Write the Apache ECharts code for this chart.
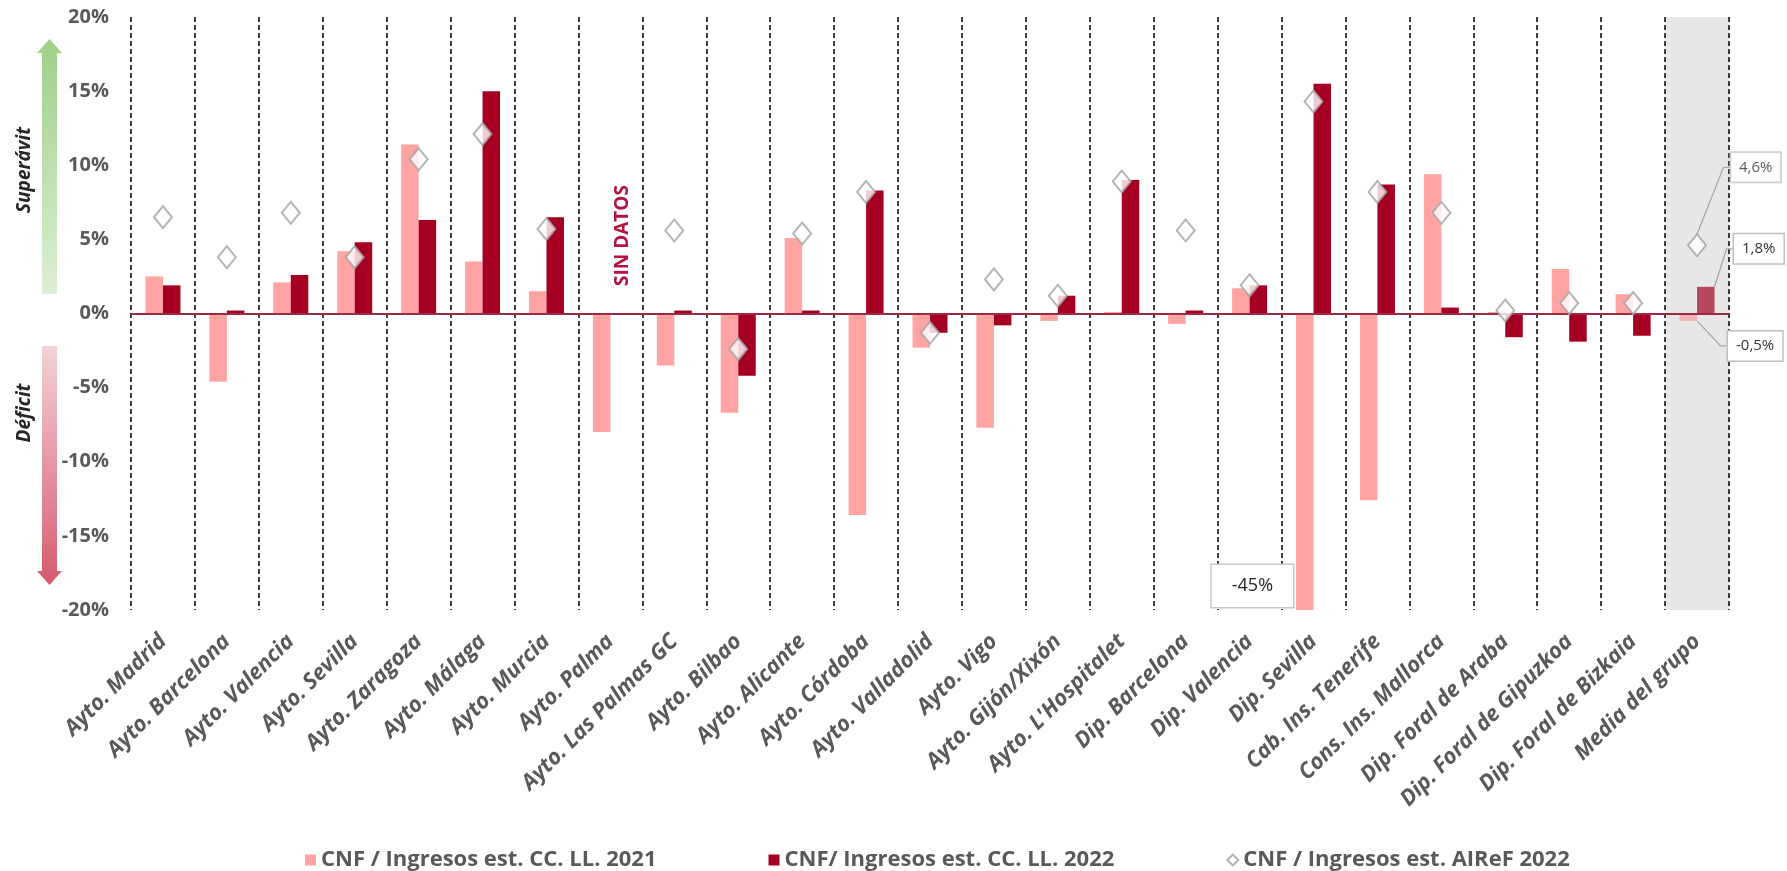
<!DOCTYPE html>
<html>
<head>
<meta charset="utf-8">
<script src="https://cdn.jsdelivr.net/npm/echarts@6/dist/echarts.min.js"></script>
<style>
  html, body { margin: 0; padding: 0; background: #ffffff; }
  #chart { width: 1787px; height: 871px; }
</style>
</head>
<body>
<div id="chart"></div>
<script>
// Capacidad/necesidad de financiación sobre ingresos (%)
const categories = [
  'Ayto. Madrid', 'Ayto. Barcelona', 'Ayto. Valencia', 'Ayto. Sevilla', 'Ayto. Zaragoza',
  'Ayto. Málaga', 'Ayto. Murcia', 'Ayto. Palma', 'Ayto. Las Palmas GC', 'Ayto. Bilbao',
  'Ayto. Alicante', 'Ayto. Córdoba', 'Ayto. Valladolid', 'Ayto. Vigo', 'Ayto. Gijón/Xixón',
  "Ayto. L'Hospitalet", 'Dip. Barcelona', 'Dip. Valencia', 'Dip. Sevilla', 'Cab. Ins. Tenerife',
  'Cons. Ins. Mallorca', 'Dip. Foral de Araba', 'Dip. Foral de Gipuzkoa', 'Dip. Foral de Bizkaia',
  'Media del grupo'
];
const cnf2021 = [2.5, -4.6, 2.1, 4.2, 11.4, 3.5, 1.5, -8.0, -3.5, -6.7, 5.1, -13.6, -2.3, -7.7, -0.5,
  0.1, -0.7, 1.7, -45, -12.6, 9.4, 0.1, 3.0, 1.3, -0.5];
const cnf2022 = [1.9, 0.2, 2.6, 4.8, 6.3, 15.0, 6.5, null, 0.2, -4.2, 0.2, 8.3, -1.3, -0.8, 1.2,
  9.0, 0.2, 1.9, 15.5, 8.7, 0.4, -1.6, -1.9, -1.5, 1.8];
const airef2022 = [6.5, 3.8, 6.8, 3.8, 10.4, 12.1, 5.7, null, 5.6, -2.4, 5.4, 8.2, -1.3, 2.3, 1.2,
  8.9, 5.6, 1.9, 14.3, 8.2, 6.8, 0.2, 0.7, 0.7, 4.6];
const seriesNames = ['CNF / Ingresos est. CC. LL. 2021', 'CNF/ Ingresos est. CC. LL. 2022', 'CNF / Ingresos est. AIReF 2022'];
const yMin = -20, yMax = 20, yStep = 5;
const noDataText = 'SIN DATOS';
const noDataIndex = categories.indexOf('Ayto. Palma');
const outlierIndex = categories.indexOf('Dip. Sevilla');
const meanIndex = categories.indexOf('Media del grupo');

const fmt = v => (Number.isInteger(v) ? String(v) : v.toFixed(1).replace('.', ',')) + '%';

const W = 1787, H = 871;
const GRID = { left: 131, right: 58, top: 17, bottom: 261 };
const BOX_X = W - GRID.right + 2;

const COL21 = '#ffa3a3', COL22 = '#a50021';
const AXIS_TXT = '#595959';
const boxLabel = {
  show: true,
  formatter: p => fmt(p.value),
  fontFamily: 'Open Sans', fontSize: 15, color: '#333333',
  backgroundColor: '#ffffff', borderColor: '#bfbfbf', borderWidth: 1.5,
  padding: [7, 8]
};
const guide = { show: true, length2: 6, lineStyle: { color: '#a6a6a6', width: 1.3 } };

// shade only the last category column
const bandColors = categories.map((c, i) => i === meanIndex ? '#e7e7e7' : 'rgba(0,0,0,0)');

const data21 = cnf2021.map((v, i) => {
  if (i === outlierIndex) {
    return { value: v, label: { show: true,
      formatter: p => fmt(p.value), fontFamily: 'Open Sans', fontSize: 18, color: '#262626',
      backgroundColor: '#ffffff', borderColor: '#c8c8c8', borderWidth: 1.5, padding: [12, 20] } };
  }
  if (i === meanIndex) {
    return { value: v, itemStyle: { color: '#f4b4b6' }, label: boxLabel, labelLine: guide };
  }
  return v;
});
const data22 = cnf2022.map((v, i) => i === meanIndex
  ? { value: v, itemStyle: { color: '#b5485f' }, label: boxLabel, labelLine: guide }
  : v);
const dataAiref = airef2022.map((v, i) => i === meanIndex
  ? { value: v, label: boxLabel, labelLine: guide }
  : v);

const chart = echarts.init(document.getElementById('chart'), null, { renderer: 'canvas', width: W, height: H });

const arrowGreen = new echarts.graphic.LinearGradient(0, 0, 0, 1, [
  { offset: 0, color: '#9fcf87' }, { offset: 1, color: '#dcefd4' }]);
const arrowRed = new echarts.graphic.LinearGradient(0, 0, 0, 1, [
  { offset: 0, color: '#f3d2d8' }, { offset: 1, color: '#d65a6f' }]);

const option = {
  animation: false,
  backgroundColor: '#ffffff',
  grid: GRID,
  legend: {
    left: 300, top: 844,
    itemWidth: 11, itemHeight: 11, itemGap: 112,
    textStyle: { fontFamily: 'Open Sans', fontWeight: 'bold', fontSize: 22, color: AXIS_TXT },
    data: [
      { name: seriesNames[0], icon: 'rect' },
      { name: seriesNames[1], icon: 'rect' },
      { name: seriesNames[2], icon: 'diamond' }
    ]
  },
  xAxis: {
    type: 'category',
    data: categories,
    boundaryGap: true,
    axisLine: { show: false },
    axisTick: { show: false },
    axisLabel: {
      interval: 0, rotate: 45, margin: 28,
      fontFamily: 'Open Sans', fontWeight: 'bold', fontStyle: 'italic', fontSize: 22, color: AXIS_TXT
    },
    splitLine: { show: true, lineStyle: { color: '#111111', width: 1.6, type: [5, 3] } },
    splitArea: { show: true, areaStyle: { color: bandColors } }
  },
  yAxis: {
    type: 'value',
    min: yMin, max: yMax, interval: yStep,
    axisLine: { show: false },
    axisTick: { show: false },
    splitLine: { show: false },
    axisLabel: {
      formatter: '{value}%', margin: 22,
      fontFamily: 'Open Sans', fontWeight: 'bold', fontSize: 20, color: AXIS_TXT
    }
  },
  series: [
    {
      name: seriesNames[0], type: 'bar', data: data21,
      barWidth: 17.5, barGap: '0%', clip: true,
      itemStyle: { color: COL21 },
      labelLayout: p => {
        if (p.dataIndex === meanIndex) {
          return { x: BOX_X - 3, y: p.rect.y + p.rect.height + 25, align: 'left', verticalAlign: 'middle' };
        }
        if (p.dataIndex === outlierIndex) {
          // value box tucked beside the foot of the clipped bar
          return { x: p.rect.x - 3, y: p.rect.y + p.rect.height - 24, align: 'right', verticalAlign: 'middle' };
        }
        return {};
      }
    },
    {
      name: seriesNames[1], type: 'bar', data: data22,
      barWidth: 17.5, barGap: '0%', clip: true,
      itemStyle: { color: COL22 },
      labelLayout: p => p.dataIndex === meanIndex
        ? { x: BOX_X + 3, y: p.rect.y - 38, align: 'left', verticalAlign: 'middle' }
        : {},
      markLine: {
        silent: true, symbol: 'none', label: { show: false },
        lineStyle: { color: '#9c2a45', width: 2, type: 'solid' },
        data: [{ yAxis: 0 }]
      }
    },
    {
      name: seriesNames[2], type: 'scatter', data: dataAiref, z: 5,
      symbol: 'diamond', symbolSize: [18, 22],
      itemStyle: { color: '#ffffff', borderColor: '#a3a3a3', borderWidth: 2 },
      labelLayout: p => p.dataIndex === meanIndex
        ? { x: BOX_X, y: p.rect.y + p.rect.height / 2 - 78, align: 'left', verticalAlign: 'middle' }
        : {}
    }
  ],
  graphic: [
    // surplus arrow
    { type: 'polygon', silent: true,
      shape: { points: [[42, 294], [42, 53], [37, 53], [49.5, 39], [62, 53], [57, 53], [57, 294]] },
      style: { fill: arrowGreen } },
    // deficit arrow
    { type: 'polygon', silent: true,
      shape: { points: [[42, 346], [57, 346], [57, 571], [62, 571], [49.5, 585], [37, 571], [42, 571]] },
      style: { fill: arrowRed } },
    { type: 'text', x: 25, y: 170, rotation: Math.PI / 2, silent: true,
      style: { text: 'Superávit', fontFamily: 'Open Sans', fontWeight: 'bold', fontStyle: 'italic',
        fontSize: 19, fill: '#262626', align: 'center', verticalAlign: 'middle' } },
    { type: 'text', x: 25, y: 413, rotation: Math.PI / 2, silent: true,
      style: { text: 'Déficit', fontFamily: 'Open Sans', fontWeight: 'bold', fontStyle: 'italic',
        fontSize: 19, fill: '#262626', align: 'center', verticalAlign: 'middle' } }
  ]
};

chart.setOption(option);

// "no data" note placed where the missing 2022 bar would stand
const anchor = chart.convertToPixel({ xAxisIndex: 0, yAxisIndex: 0 }, [noDataIndex, 0]);
chart.setOption({
  graphic: [{
    type: 'text', id: 'nodata', silent: true,
    x: anchor[0] + 12, y: anchor[1] - 78, rotation: Math.PI / 2,
    style: { text: noDataText, fontFamily: 'Open Sans', fontWeight: 'bold', fontSize: 19,
      fill: '#b5123f', align: 'center', verticalAlign: 'middle' }
  }]
});
</script>
</body>
</html>
